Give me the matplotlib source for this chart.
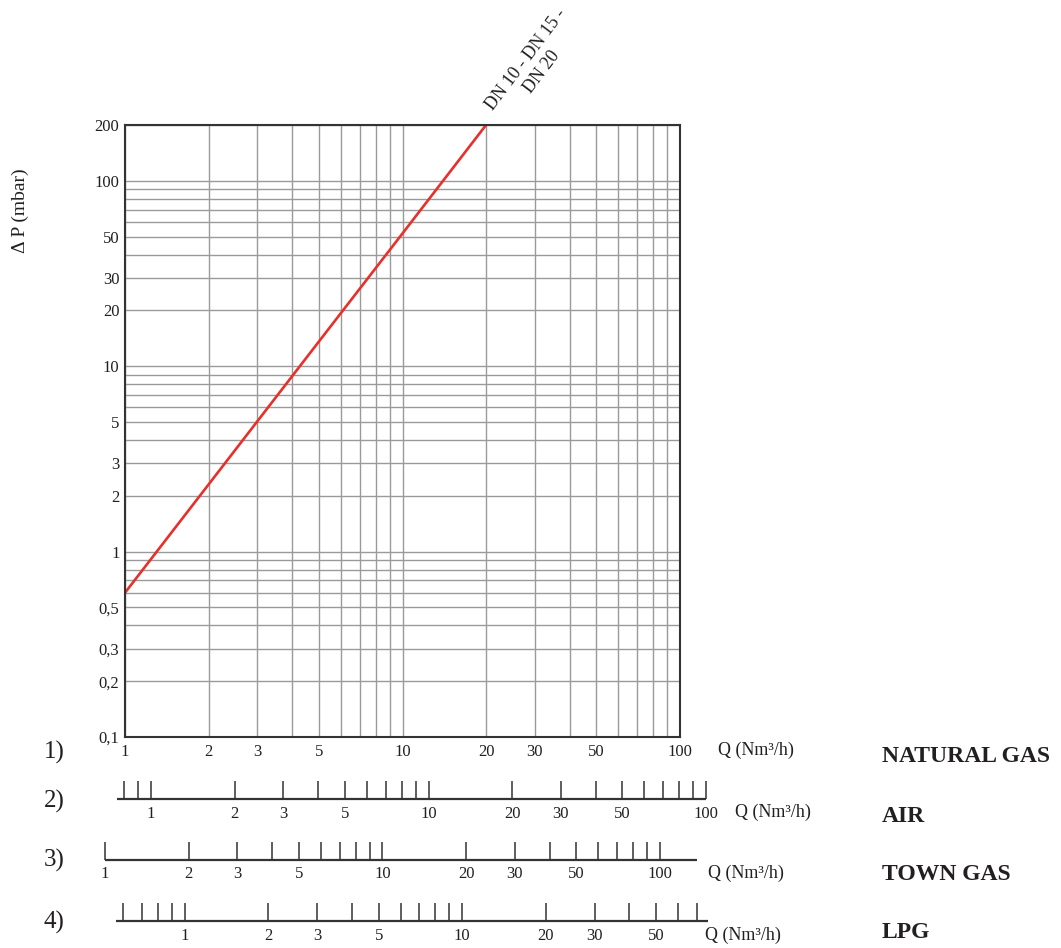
import numpy as np
import matplotlib
matplotlib.use("Agg")
import matplotlib.pyplot as plt
from matplotlib.ticker import FixedLocator, NullLocator

plt.rcParams['font.family'] = ['Liberation Serif', 'DejaVu Serif']

# pressure drop curve, natural gas (DN 10 - DN 15 - DN 20)
q_ng = [1, 2, 5, 10, 20]
dp_ng = [0.6, 2.3, 13.6, 52, 200]

# main chart ticks
x_major = [1, 2, 3, 5, 10, 20, 30, 50, 100]
y_major = [0.1, 0.2, 0.3, 0.5, 1, 2, 3, 5, 10, 20, 30, 50, 100, 200]
y_major_lbl = ["0,1", "0,2", "0,3", "0,5", "1", "2", "3", "5", "10", "20", "30", "50", "100", "200"]

# other gas scales: factor = natural gas flow / gas flow at same position
gas_names = ["NATURAL GAS", "AIR", "TOWN GAS", "LPG"]
air_factor = 1.241
town_factor = 0.847
lpg_factor = 1.641
air_ticks = [0.8, 0.9, 1, 2, 3, 4, 5, 6, 7, 8, 9, 10, 20, 30, 40, 50, 60, 70, 80, 90, 100]
air_labels = [1, 2, 3, 5, 10, 20, 30, 50, 100]
air_range = [0.756, 100]
town_ticks = [1, 2, 3, 4, 5, 6, 7, 8, 9, 10, 20, 30, 40, 50, 60, 70, 80, 90, 100]
town_labels = [1, 2, 3, 5, 10, 20, 30, 50, 100]
town_range = [1, 135.6]
lpg_ticks = [0.6, 0.7, 0.8, 0.9, 1, 2, 3, 4, 5, 6, 7, 8, 9, 10, 20, 30, 40, 50, 60, 70]
lpg_labels = [1, 2, 3, 5, 10, 20, 30, 50]
lpg_range = [0.564, 76.7]

W, H = 1061, 948
TXT = '#231f20'
fig = plt.figure(figsize=(W / 100, H / 100), dpi=100)


def fx(x):
    return x / W


def fy(y):
    return 1 - y / H


# main axes in pixels
L, R, T, B = 125, 680, 125, 737
ax = fig.add_axes([fx(L), fy(B), fx(R - L), (B - T) / H])
ax.set_xscale('log')
ax.set_yscale('log')
ax.set_xlim(1, 100)
ax.set_ylim(0.1, 200)

ax.plot(q_ng, dp_ng, color='#e8302a', lw=1.9, solid_capstyle='butt', zorder=3)

ax.xaxis.set_major_locator(FixedLocator(x_major))
ax.set_xticklabels([str(v) for v in x_major])
ax.yaxis.set_major_locator(FixedLocator(y_major))
ax.set_yticklabels(y_major_lbl)
grid_vals = [m * 10 ** e for e in range(-1, 3) for m in range(1, 10)]
ax.xaxis.set_minor_locator(FixedLocator([v for v in grid_vals if 1 < v < 100]))
ax.yaxis.set_minor_locator(FixedLocator([v for v in grid_vals if 0.1 < v < 200]))
ax.grid(which='both', color='#9a9a9a', lw=1.0)
ax.tick_params(which='both', length=0, labelsize=12, labelcolor=TXT)
ax.tick_params(axis='x', pad=5)
ax.tick_params(axis='y', pad=4)
for s in ax.spines.values():
    s.set_color('#333333')
    s.set_linewidth(1.5)
    s.set_zorder(4)

# anchor is the baseline of the last line (DN 20)
ax.annotate("DN 10 - DN 15 -\nDN 20", xy=(20, 200), xytext=(15, 2.5),
            textcoords='offset points', rotation=53, rotation_mode='anchor',
            ha='left', va='baseline', multialignment='center',
            fontsize=13, color=TXT)

fig.text(fx(20), fy(211), "Δ P (mbar)", rotation=90, ha='center', va='center',
         fontsize=14, color=TXT)

# secondary flow scales
D = (R - L) / np.log10(100 / 1)
SL, SR = 100, 720
ng_lo = 10 ** ((SL - L) / D)
ng_hi = 10 ** ((SR - L) / D)

scales = [
    (air_factor, air_ticks, air_labels, air_range, 799),
    (town_factor, town_ticks, town_labels, town_range, 859.5),
    (lpg_factor, lpg_ticks, lpg_labels, lpg_range, 921),
]
for f, ticks, labels, rng, yline in scales:
    a = fig.add_axes([fx(SL), fy(yline), fx(SR - SL), 22 / H])
    a.patch.set_alpha(0)
    a.set_xscale('log')
    a.set_xlim(ng_lo / f, ng_hi / f)
    a.set_ylim(0, 1)
    a.hlines(0, rng[0], rng[1], color='#333333', lw=1.6, clip_on=False)
    a.xaxis.set_major_locator(FixedLocator(ticks))
    a.xaxis.set_minor_locator(NullLocator())
    a.set_xticklabels([str(v) if v in labels else "" for v in ticks])
    a.tick_params(axis='x', direction='in', length=13, width=1.1, color='#333333',
                  pad=5, labelsize=12, labelcolor=TXT)
    a.set_yticks([])
    for s in a.spines.values():
        s.set_visible(False)

# row numbers, units, gas names
row_y = [752, 801, 860, 922]
unit_pos = [(718, 750), (735, 812), (708, 873), (705, 935)]
name_y = [757, 816, 874, 933]
for i in range(4):
    fig.text(fx(54), fy(row_y[i]), f"{i + 1})", ha='center', va='center',
             fontsize=18, color=TXT)
    fig.text(fx(unit_pos[i][0]), fy(unit_pos[i][1]), "Q (Nm³/h)", ha='left',
             va='center', fontsize=13, color=TXT)
    fig.text(fx(882), fy(name_y[i]), gas_names[i], ha='left', va='center',
             fontsize=17, fontweight='bold', color=TXT)

fig.savefig("out.png", dpi=100)
